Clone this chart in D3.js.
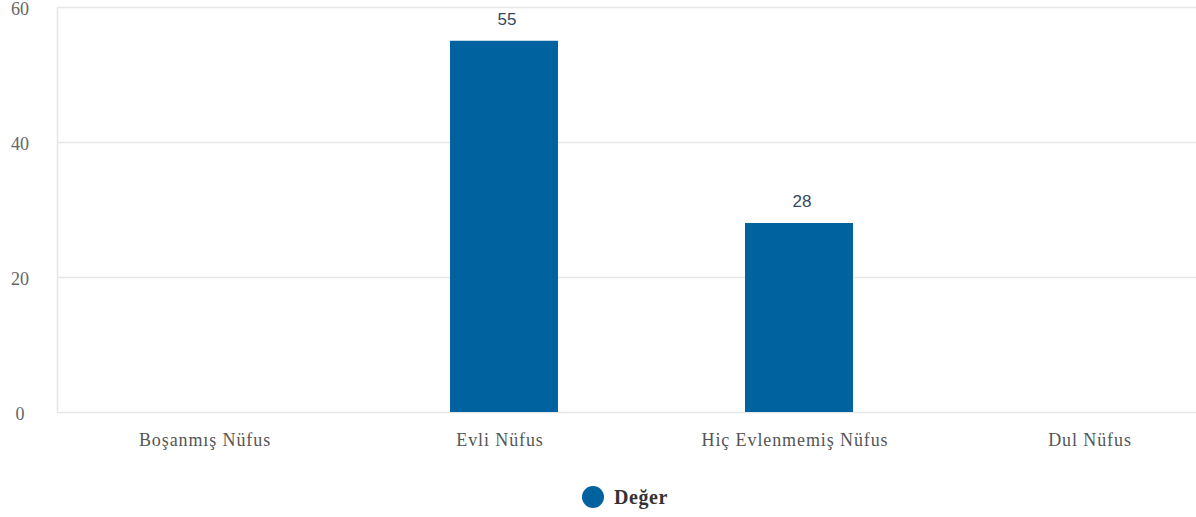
<!DOCTYPE html>
<html>
<head>
<meta charset="utf-8">
<script src="https://cdn.jsdelivr.net/npm/d3@7"></script>
<style>
  html, body { margin: 0; padding: 0; background: #fff; }
  svg { display: block; }
</style>
</head>
<body>
<svg id="chart" width="1196" height="517"></svg>
<script>
// Marital status breakdown
const categories = ["Boşanmış Nüfus", "Evli Nüfus", "Hiç Evlenmemiş Nüfus", "Dul Nüfus"];
const values = [0, 55, 28, 0];
const yTicks = [0, 20, 40, 60];
const seriesName = "Değer";

const svg = d3.select("#chart");
const W = 1196;
const barColor = "#0063a0";
const serif = "'Liberation Serif', 'Times New Roman', serif";

const x = d3.scaleBand()
  .domain(categories)
  .range([61.5, 1241.5])
  .paddingInner(0.634)
  .paddingOuter(0.317);

const y = d3.scaleLinear().domain([0, 60]).range([412, 7]);

// grid lines
svg.append("g")
  .selectAll("line")
  .data(yTicks)
  .join("line")
  .attr("x1", 57).attr("x2", W)
  .attr("y1", d => y(d) + 0.5).attr("y2", d => y(d) + 0.5)
  .attr("stroke", "#e6e6e6")
  .attr("stroke-width", 1.5);

// left frame line
svg.append("line")
  .attr("x1", 57.5).attr("x2", 57.5)
  .attr("y1", y(60)).attr("y2", y(0) + 1)
  .attr("stroke", "#e6e6e6")
  .attr("stroke-width", 1.5);

// y axis labels, centred in the left margin
const yAxis = d3.axisLeft(y).tickValues(yTicks).tickSize(0).tickPadding(0);
const gy = svg.append("g").attr("transform", "translate(20,2)").call(yAxis);
gy.select(".domain").remove();
gy.selectAll("text")
  .attr("text-anchor", "middle")
  .attr("font-family", serif)
  .attr("font-size", 18)
  .attr("fill", "#666");

// x axis labels
const xAxis = d3.axisBottom(x).tickSize(0).tickPadding(0);
const gx = svg.append("g").attr("transform", "translate(-4,433)").call(xAxis);
gx.select(".domain").remove();
gx.selectAll("text")
  .attr("font-family", serif)
  .attr("font-size", 18)
  .attr("letter-spacing", "0.9px")
  .attr("fill", "#555");

const shown = values.map((v, i) => ({ c: categories[i], v })).filter(d => d.v > 0);

// bars
svg.append("g")
  .selectAll("rect")
  .data(shown)
  .join("rect")
  .attr("x", d => x(d.c))
  .attr("y", d => y(d.v))
  .attr("width", x.bandwidth())
  .attr("height", d => y(0) - y(d.v))
  .attr("fill", barColor);

// value labels
svg.append("g")
  .selectAll("text")
  .data(shown)
  .join("text")
  .attr("x", d => x(d.c) + x.bandwidth() / 2 + 3)
  .attr("y", d => y(d.v) - 16)
  .attr("text-anchor", "middle")
  .attr("font-family", "'Liberation Sans', Arial, sans-serif")
  .attr("font-size", 17)
  .attr("fill", "#34495e")
  .text(d => d.v);

// legend
const lg = svg.append("g").attr("transform", "translate(593,497)");
lg.append("circle").attr("r", 11).attr("fill", barColor);
lg.append("text")
  .attr("x", 21).attr("y", 7)
  .attr("font-family", serif)
  .attr("font-weight", "bold")
  .attr("font-size", 20)
  .attr("letter-spacing", "0.6px")
  .attr("fill", "#333")
  .text(seriesName);
</script>
</body>
</html>
